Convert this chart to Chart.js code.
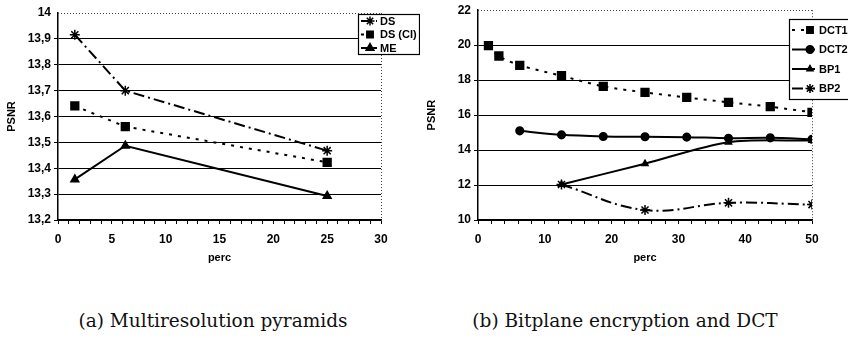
<!DOCTYPE html>
<html>
<head>
<meta charset="utf-8">
<script src="https://cdn.jsdelivr.net/npm/chart.js@4.4.1/dist/chart.umd.min.js"></script>
<style>
  body { margin: 0; background: #fff; width: 848px; height: 338px; position: relative; overflow: hidden; }
  .box { position: absolute; top: 0; height: 270px; }
  .caption { position: absolute; top: 310px; font-family: "DejaVu Serif", serif; font-size: 18.5px; color: #111; white-space: nowrap; transform: translateX(-50%); }
</style>
</head>
<body>
<div class="box" style="left:0;width:420px"><canvas id="chartA" width="420" height="270"></canvas></div>
<div class="box" style="left:420px;width:428px"><canvas id="chartB" width="428" height="270"></canvas></div>
<div class="caption" style="left:213px">(a) Multiresolution pyramids</div>
<div class="caption" style="left:625px">(b) Bitplane encryption and DCT</div>
<script>
// (a) multiresolution pyramids
const percA = [1.5625, 6.25, 25];
const dsA = [13.916, 13.70, 13.468];
const dsCiA = [13.641, 13.561, 13.423];
const meA = [13.357, 13.487, 13.293];

// (b) bitplane + DCT
const percDct1 = [1.5625, 3.125, 6.25, 12.5, 18.75, 25, 31.25, 37.5, 43.75, 50];
const dct1 = [19.97, 19.38, 18.85, 18.25, 17.64, 17.30, 17.01, 16.73, 16.48, 16.16];
const percDct2 = [6.25, 12.5, 18.75, 25, 31.25, 37.5, 43.75, 50];
const dct2 = [15.1, 14.87, 14.78, 14.76, 14.74, 14.68, 14.7, 14.62];
const percBp = [12.5, 25, 37.5, 50];
const bp1 = [12.03, 13.22, 14.45, 14.55];
const bp2 = [12.03, 10.57, 10.98, 10.88];

const AXIS_FONT = { family: "Liberation Sans, Arial", size: 12, weight: "bold" };
const TITLE_FONT = { family: "Liberation Sans, Arial", size: 11, weight: "bold" };

function pts(xs, ys) {
    return xs.map(function (x, i) { return { x: x, y: ys[i] }; });
}

function series(label, xs, ys, dash, style, radius, tension) {
    return {
        label: label,
        data: pts(xs, ys),
        borderColor: "#000",
        backgroundColor: "#000",
        borderWidth: 2,
        borderDash: dash,
        pointStyle: style,
        pointRadius: radius,
        pointBorderWidth: 1.5,
        pointBackgroundColor: "#000",
        pointBorderColor: "#000",
        tension: tension || 0
    };
}

// draws the dotted top border + right border and an Excel-like legend box
const frameAndLegend = {
    id: "frameAndLegend",
    afterDatasetsDraw(chart, args, opts) {
        const ctx = chart.ctx;
        const a = chart.chartArea;
        ctx.save();
        ctx.strokeStyle = "#444";
        ctx.lineWidth = 1;
        ctx.setLineDash([1, 2]);
        ctx.beginPath();
        ctx.moveTo(a.left, Math.round(a.top) + 0.5);
        ctx.lineTo(a.right, Math.round(a.top) + 0.5);
        ctx.moveTo(Math.round(a.right) + 0.5, a.top);
        ctx.lineTo(Math.round(a.right) + 0.5, a.bottom);
        ctx.stroke();
        ctx.restore();

        const b = opts.box;
        if (!b) return;
        ctx.save();
        ctx.fillStyle = "#fff";
        ctx.fillRect(b.x, b.y, b.w, b.h);
        ctx.strokeStyle = "#000";
        ctx.lineWidth = 1.2;
        ctx.setLineDash([]);
        ctx.strokeRect(b.x + 0.5, b.y + 0.5, b.w, b.h);
        ctx.font = "bold 11px Liberation Sans, Arial";
        ctx.textBaseline = "middle";
        chart.data.datasets.forEach(function (ds, i) {
            const y = b.y + opts.rowTop + i * opts.rowGap;
            ctx.strokeStyle = "#000";
            ctx.lineWidth = 2;
            ctx.setLineDash(ds.borderDash || []);
            ctx.beginPath();
            ctx.moveTo(b.x + 3, y);
            ctx.lineTo(b.x + opts.lineLen, y);
            ctx.stroke();
            ctx.setLineDash([]);
            ctx.fillStyle = "#000";
            ctx.lineWidth = 1.5;
            Chart.helpers.drawPoint(ctx, { pointStyle: ds.pointStyle, radius: Math.min(ds.pointRadius, 4.5), rotation: 0, borderWidth: 1.5 }, b.x + opts.markX, y);
            ctx.fillStyle = "#000";
            ctx.fillText(ds.label, b.x + opts.textX, y + 0.5);
        });
        ctx.restore();
    }
};

function decimalComma(v) {
    const r = Math.round(v * 10) / 10;
    return Number.isInteger(r) ? String(r) : r.toFixed(1).replace(".", ",");
}

function makeOptions(xMax, xStep, xLabelStep, yMin, yMax, yStep, padRight, padTop, legend) {
    return {
        responsive: false,
        animation: false,
        layout: { padding: { left: 0, right: padRight, top: padTop, bottom: 0 } },
        plugins: {
            legend: { display: false },
            tooltip: { enabled: false },
            frameAndLegend: legend
        },
        scales: {
            x: {
                type: "linear",
                min: 0,
                max: xMax,
                afterFit: function (s) { s.height = 50; },
                ticks: {
                    stepSize: xStep,
                    autoSkip: false,
                    maxRotation: 0,
                    padding: 8,
                    color: "#000",
                    font: AXIS_FONT,
                    callback: function (v) { return v % xLabelStep === 0 ? v : ""; }
                },
                grid: { drawOnChartArea: false, drawTicks: true, tickLength: 4, color: "#000" },
                border: { color: "#000", width: 1.5 },
                title: { display: true, text: "perc", color: "#000", font: TITLE_FONT, padding: { top: 4, bottom: 5 } }
            },
            y: {
                min: yMin,
                max: yMax,
                afterFit: function (s) { s.width = 58; },
                ticks: {
                    stepSize: yStep,
                    autoSkip: false,
                    padding: 3,
                    color: "#000",
                    font: AXIS_FONT,
                    callback: decimalComma
                },
                grid: {
                    color: function (c) { return c.tick && Math.abs(c.tick.value - yMax) < 1e-6 ? "rgba(0,0,0,0)" : "#000"; },
                    lineWidth: 1,
                    drawTicks: true,
                    tickLength: 4
                },
                border: { color: "#000", width: 1.5 },
                title: { display: true, text: "PSNR", color: "#000", font: TITLE_FONT, padding: { top: 5, bottom: 4 } }
            }
        }
    };
}

new Chart(document.getElementById("chartA"), {
    type: "line",
    data: {
        datasets: [
            series("DS", percA, dsA, [11, 4, 2, 4], "star", 5),
            series("DS (CI)", percA, dsCiA, [3, 6], "rect", 5.5),
            series("ME", percA, meA, [], "triangle", 4.5)
        ]
    },
    options: makeOptions(30, 1, 5, 13.2, 14, 0.1, 39, 13,
        { box: { x: 358, y: 14, w: 61, h: 40 }, rowTop: 7, rowGap: 13.5, lineLen: 19, markX: 12, textX: 22 }),
    plugins: [frameAndLegend]
});

new Chart(document.getElementById("chartB"), {
    type: "line",
    data: {
        datasets: [
            series("DCT1", percDct1, dct1, [3, 6], "rect", 5.5, 0.3),
            series("DCT2", percDct2, dct2, [], "circle", 3.8, 0.3),
            series("BP1", percBp, bp1, [], "triangle", 3.5, 0.3),
            series("BP2", percBp, bp2, [11, 4, 2, 4], "star", 5, 0.4)
        ]
    },
    options: makeOptions(50, 2, 10, 10, 22, 2, 36, 9,
        { box: { x: 369, y: 19, w: 60, h: 80 }, rowTop: 11, rowGap: 19.5, lineLen: 26, markX: 21, textX: 30 }),
    plugins: [frameAndLegend]
});
</script>
</body>
</html>
